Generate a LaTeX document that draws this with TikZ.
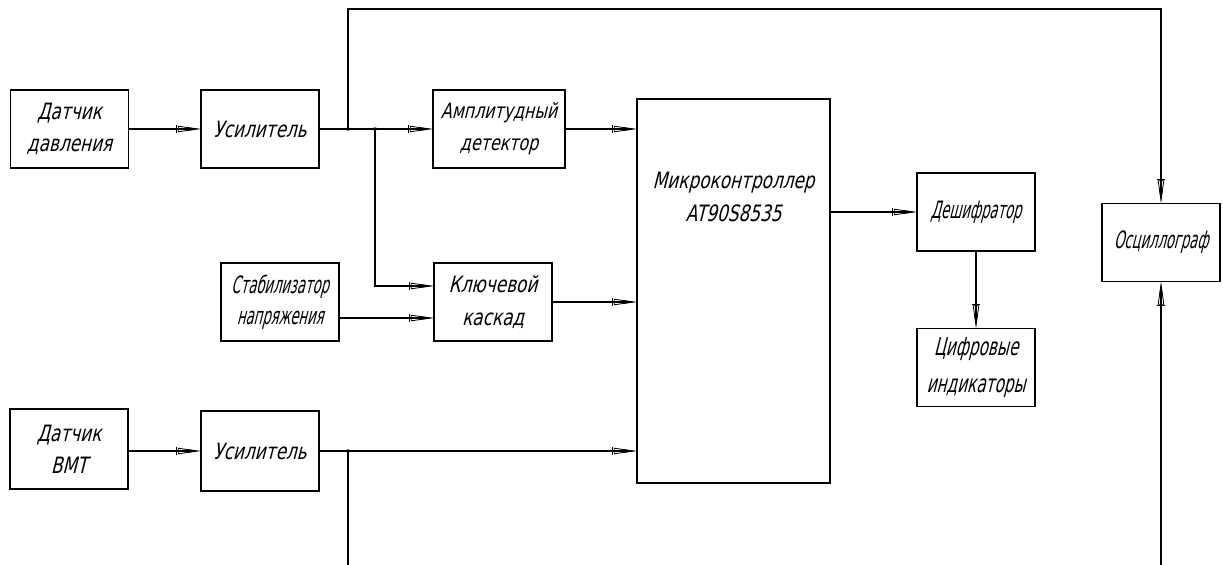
\documentclass[tikz,border=0pt]{standalone}
\usepackage{fontspec}
\setmainfont{DejaVu Sans}
\newfontfamily\gostfont{DejaVu Sans}[FakeSlant=0.25,FakeStretch=0.75]
\newfontfamily\gostnarrow{DejaVu Sans}[FakeSlant=0.25,FakeStretch=0.55]
\newfontfamily\gosttall{DejaVu Sans}[FakeSlant=0.25,FakeStretch=0.62]
\usetikzlibrary{arrows.meta}
\tikzset{block node/.style={draw,line width=0.9pt,inner sep=0pt,align=center,
    minimum width=2.95cm,minimum height=1.95cm,font=\gostfont\fontsize{16}{23}\selectfont},
  small block/.style={block node,font=\gostnarrow\fontsize{17}{22}\selectfont},
  sig/.style={line width=0.8pt,-{Bar[width=6pt,line width=0.6pt,sep=0.5pt]Triangle[open,length=16pt,width=4.5pt,line width=0.6pt,sep=-10pt]Triangle[length=10pt,width=2.6pt]}},
  joint/.style={circle,fill=gray,inner sep=0pt,minimum size=3pt}}

\begin{document}
\begin{tikzpicture}[x=0.025cm,y=-0.025cm]
            \useasboundingbox (0,0) rectangle (1223,565);
            % blocks
            \node[block node] (DD) at (69.5,129) {Датчик\\давления};
            \node[block node] (U1) at (260,129) {Усилитель};
            \node[block node,minimum width=3.3cm,font=\gostfont\fontsize{15}{23}\selectfont] (AD) at (499,129) {Амплитудный\\детектор};
            \node[small block] (ST) at (280,302) {Стабилизатор\\напряжения};
            \node[block node] (KK) at (493,302) {Ключевой\\каскад};
            \node[block node,minimum width=4.825cm,minimum height=9.6cm] (MC) at (733.5,291) {};
            \node[font=\gostfont\fontsize{16}{24}\selectfont,align=center] (MCtext) at (733.5,197) {Микроконтроллер\\AT90S8535};
            \node[small block] (DS) at (976,212) {Дешифратор};
            \node[block node,font=\gosttall\fontsize{17.5}{26}\selectfont] (CI) at (976,367.5) {Цифровые\\индикаторы};
            \node[small block] (OS) at (1161,242.5) {Осциллограф};
            \node[block node,minimum height=2cm] (DV) at (69,449) {Датчик\\ВМТ};
            \node[block node,minimum height=2cm] (U2) at (260,451) {Усилитель};

            % branch points
            \node[joint] (j1) at (348,129) {};
            \node[joint] (j2) at (375,129) {};
            \node[joint] (j3) at (348,451) {};
            \coordinate (top) at (348,9);
            \coordinate (bot1) at (348,565);
            \coordinate (bot2) at (1161,565);

            \draw[sig] (DD) -- (U1);
            \draw[sig] (U1) -- (AD);
            \draw[sig] (AD) -- (AD -| MC.west);
            \draw[sig] (KK) -- (KK -| MC.west);
            \draw[sig] (j1.center) -- (top) -| (OS);
            \draw[sig] (j2.center) |- ([yshift=0.4cm]KK.west);
            \draw[sig] ([yshift=-0.4cm]ST.east) -- ([yshift=-0.4cm]ST.east -| KK.west);
            \draw[sig] (MC.east |- DS) -- (DS);
            \draw[sig] (DS) -- (CI);
            \draw[sig] (DV.east |- U2) -- (U2);
            \draw[sig] (U2) -- (U2 -| MC.west);
            \draw[line width=0.8pt] (j3.center) -- (bot1);
            \draw[sig] (bot2) -- (OS);
        \end{tikzpicture}
\end{document}
